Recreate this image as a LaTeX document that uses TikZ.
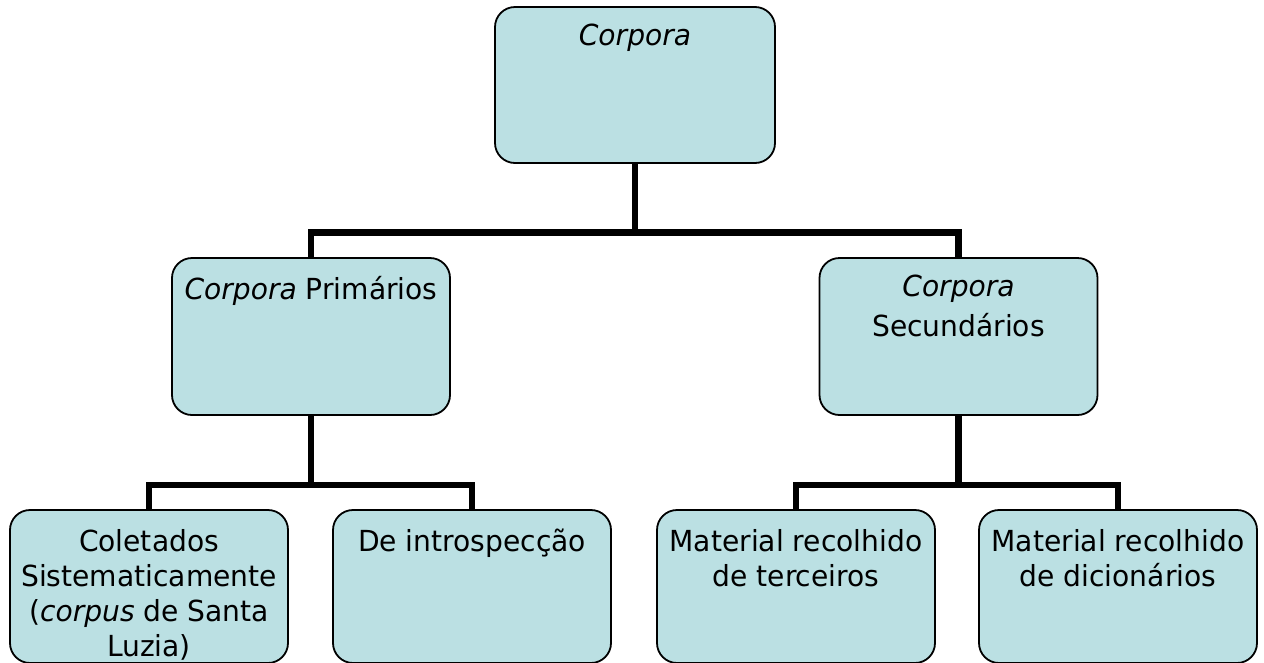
\documentclass[tikz,border=0pt]{standalone}
\usepackage{fontspec}
\setmainfont{DejaVu Sans}[FakeStretch=0.97]
\definecolor{boxfill}{RGB}{187,224,227}
\newcommand\firstst{\rule{0pt}{24pt}}
\tikzset{
  x=1pt, y=-1pt,
  box/.style={draw=black, line width=1.8pt, fill=boxfill, rounded corners=20pt,
    inner sep=0pt, minimum width=278pt},
  txt/.style={anchor=north, align=center, inner sep=0pt,
    font=\fontsize{29}{35}\selectfont},
  conn/.style={line width=6.2pt, line join=miter, line cap=butt},
}
\begin{document}
\begin{tikzpicture}
\useasboundingbox (0,0) rectangle (1264,662);
% boxes
\node[box, minimum width=280pt, minimum height=156pt,
  label={[txt, label distance=-15pt]north:{\firstst\itshape Corpora}}] (top) at (635,85) {};
\node[box, minimum height=157pt,
  label={[txt, label distance=-18pt]north:{\firstst\textit{Corpora} Primários}}] (prim) at (311,336.5) {};
\node[box, minimum height=157pt,
  label={[txt, font=\fontsize{29}{40}\selectfont, label distance=-15pt]north:{\firstst\textit{Corpora}\\Secundários}}] (sec) at (958.5,336.5) {};
\node[box, minimum height=153pt,
  label={[txt, label distance=-18pt]north:{\firstst Coletados\\Sistematicamente\\(\textit{corpus} de Santa\\Luzia)}}] (c1) at (149,586.5) {};
\node[box, minimum height=153pt,
  label={[txt, label distance=-18pt]north:{\firstst De introspecção}}] (c2) at (472,586.5) {};
\node[box, minimum height=153pt,
  label={[txt, label distance=-18pt]north:{\firstst Material recolhido\\de terceiros}}] (c3) at (796,586.5) {};
\node[box, minimum height=153pt,
  label={[txt, label distance=-18pt]north:{\firstst Material recolhido\\de dicionários}}] (c4) at (1118,586.5) {};
% connectors
\coordinate (b1) at (635,232.5);
\coordinate (b2) at (311,485);
\coordinate (b3) at (958.5,485);
\draw[conn] (top.south) -- (b1);
\draw[conn] (prim.north) |- (b1) -| (sec.north);
\draw[conn] (prim.south) -- (b2);
\draw[conn] (c1.north) |- (b2) -| (c2.north);
\draw[conn] (sec.south) -- (b3);
\draw[conn] (c3.north) |- (b3) -| (c4.north);
\end{tikzpicture}
\end{document}
